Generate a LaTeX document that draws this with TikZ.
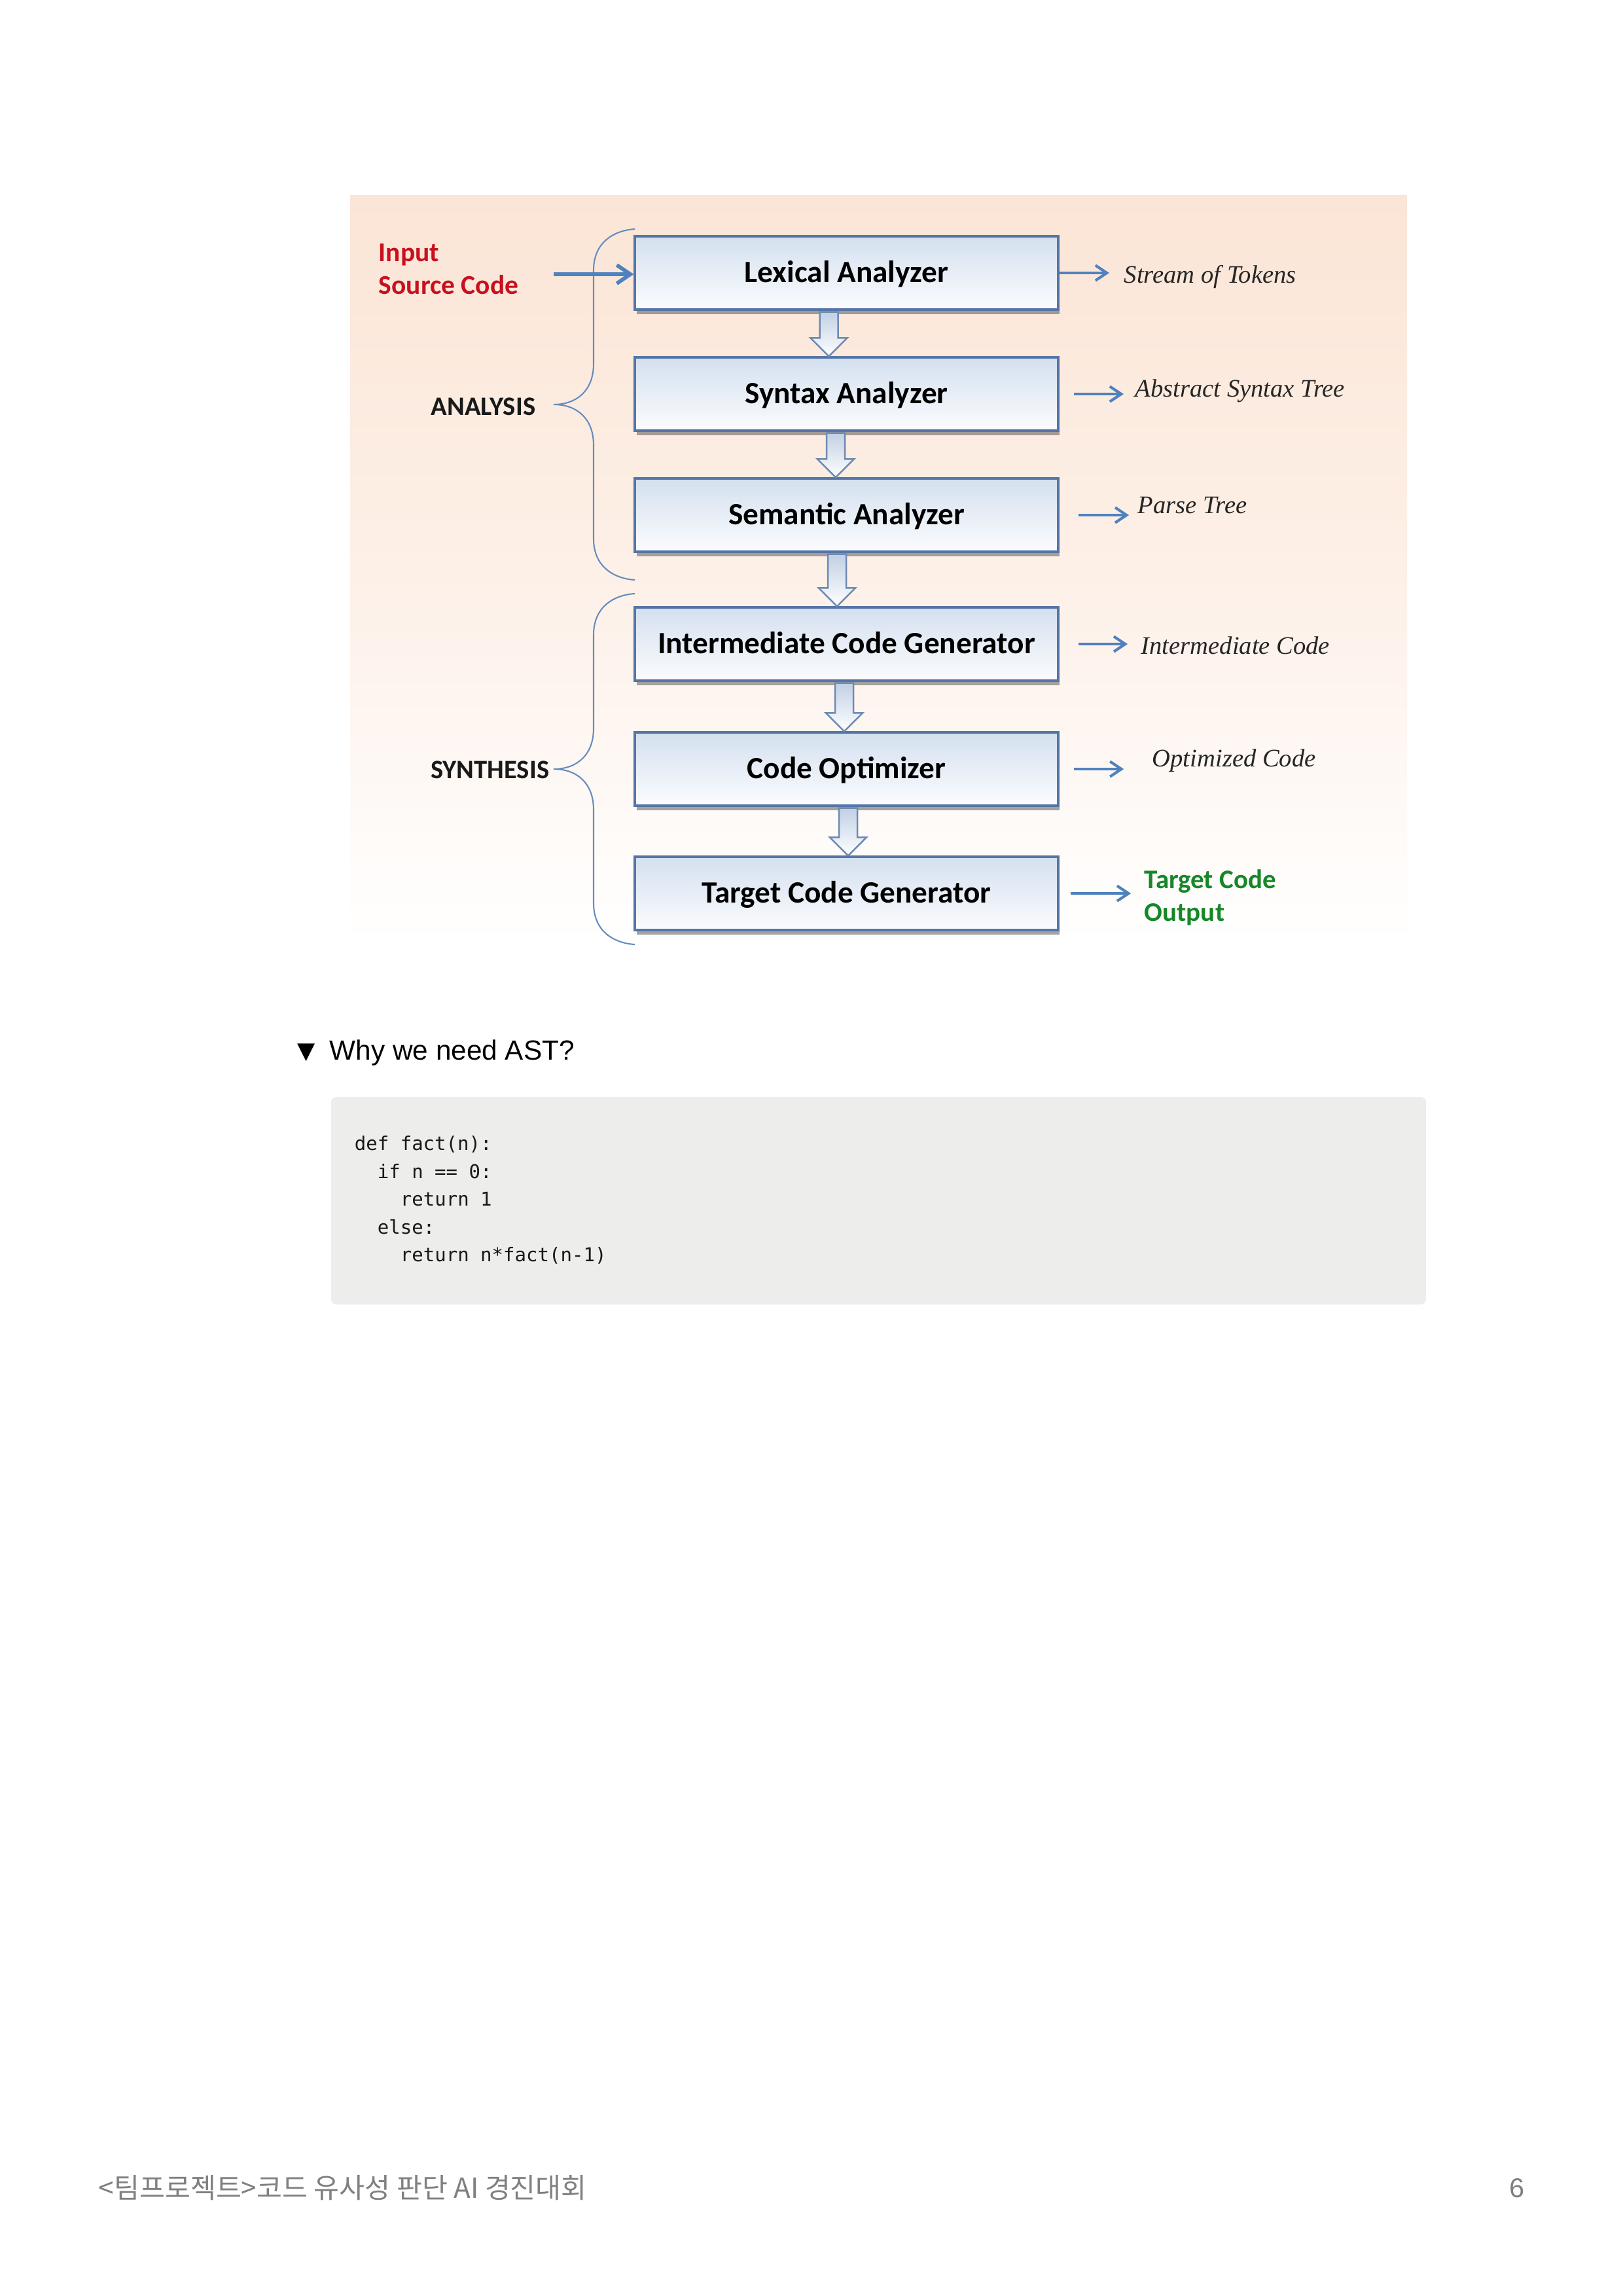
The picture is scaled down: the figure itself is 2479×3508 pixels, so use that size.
\documentclass[tikz,border=0pt]{standalone}
\usepackage{fontspec}
\setmainfont{Liberation Sans}
\setmonofont{DejaVu Sans Mono}
\newfontfamily\carlito{Carlito}
\newfontfamily\serifit{Liberation Serif}
\newfontfamily\krfont{Noto Sans CJK KR}
\newfontfamily\dejavu{DejaVu Sans}
\usetikzlibrary{arrows.meta,calc,shadows}

\definecolor{peach}{RGB}{251,229,214}
\definecolor{peachmid}{RGB}{253,240,231}
\definecolor{boxedge}{RGB}{84,117,166}
\definecolor{boxtop}{RGB}{212,224,239}
\definecolor{boxbot}{RGB}{251,252,254}
\definecolor{arrblue}{RGB}{79,129,189}
\definecolor{bracecol}{RGB}{100,140,190}
\definecolor{inred}{RGB}{200,16,30}
\definecolor{outgreen}{RGB}{22,135,40}
\definecolor{codebg}{RGB}{237,237,235}
\definecolor{footgray}{RGB}{128,128,128}

\newcommand\blockdown[3]{%
  \draw[blockarr] ($(#1.south)+(#3-14,2)$) -- ($(#1.south)+(#3+14,2)$)
    -- ($(#2.north)+(#3+14,-28)$) -- ($(#2.north)+(#3+28,-28)$)
    -- ($(#2.north)+(#3,0)$) -- ($(#2.north)+(#3-28,-28)$)
    -- ($(#2.north)+(#3-14,-28)$) -- cycle;}

\begin{document}
\begin{tikzpicture}[x=0.084712mm, y=-0.084712mm,
  stage/.style={draw=boxedge, line width=0.8pt, top color=boxtop, bottom color=boxbot,
    minimum width=54.8mm, minimum height=9.49mm, inner sep=0pt,
    font=\carlito\bfseries\fontsize{11.4}{13}\selectfont, text height=7.2pt, text depth=0pt,
    drop shadow={shadow xshift=0.6pt, shadow yshift=-1.7pt, opacity=0.5, fill=black!70}},
  blockarr/.style={draw=boxedge!85, line width=0.6pt, top color=boxtop!85!boxedge, bottom color=white},
  rarr/.style={draw=arrblue, line width=1pt, -{Straight Barb[length=4.2pt,width=5.6pt]}},
  inarr/.style={draw=arrblue, line width=1.4pt, -{Straight Barb[length=5pt,width=6.8pt]}},
  bracestyle/.style={draw=bracecol, line width=0.5pt},
  outlab/.style={font=\serifit\itshape\fontsize{9.3}{11}\selectfont, text=black!85, inner sep=0pt, anchor=base west},
  grp/.style={font=\carlito\bfseries\fontsize{9.8}{12}\selectfont, text=black!90, inner sep=0pt, anchor=base east},
  redlab/.style={font=\carlito\bfseries\fontsize{10}{12}\selectfont, text=inred, inner sep=0pt, anchor=base west},
  greenlab/.style={font=\carlito\bfseries\fontsize{9.9}{12}\selectfont, text=outgreen, inner sep=0pt, anchor=base west},
  codeline/.style={font=\ttfamily\fontsize{7}{9}\selectfont, text=black!90, inner sep=0pt, anchor=base west},
  curlybrace/.pic={\draw[bracestyle] (124,-268) .. controls (92,-266) and (61,-248) .. (61,-205)
      -- (61,-62) .. controls (61,-22) and (36,0) .. (0,0)
      .. controls (36,0) and (61,22) .. (61,62) -- (61,205)
      .. controls (61,248) and (92,266) .. (124,268);}
]
\useasboundingbox (0,0) rectangle (2479,3508);
\fill[white] (0,0) rectangle (2479,3508);

% diagram background
\fill[top color=peach, bottom color=white, middle color=peachmid] (535,298) rectangle (2150,1443);

% braces
\pic at (846,618) {curlybrace};
\pic at (846,1175) {curlybrace};

% stages
\node[stage] (lex) at (1293.5,417) {Lexical Analyzer};
\node[stage] (syn) at (1293.5,602) {Syntax Analyzer};
\node[stage] (sem) at (1293.5,787) {Semantic Analyzer};
\node[stage] (icg) at (1293.5,984) {Intermediate Code Generator};
\node[stage] (opt) at (1293.5,1175) {Code Optimizer};
\node[stage] (tcg) at (1293.5,1365) {Target Code Generator};

% block arrows
\blockdown{lex}{syn}{-27}
\blockdown{syn}{sem}{-16.5}
\blockdown{sem}{icg}{-14.5}
\blockdown{icg}{opt}{-3.5}
\blockdown{opt}{tcg}{2.5}

% left labels
\node[redlab] (inp1) at (578,399) {Input};
\node[redlab] (inp2) at (578,449) {Source Code};
\coordinate (insrc) at (846,419);
\draw[inarr] (insrc) -- (insrc -| lex.west);
\node[grp] (ana) at (819,634) {ANALYSIS};
\node[grp] (synth) at (840,1189) {SYNTHESIS};

% right labels
\node[outlab] (tok) at (1717,432) {Stream of Tokens};
\node[outlab] (ast) at (1734,606) {Abstract Syntax Tree};
\node[outlab] (ptree) at (1738,784) {Parse Tree};
\node[outlab] (icode) at (1743,999) {Intermediate Code};
\node[outlab] (ocode) at (1760,1171) {Optimized Code};
\node[greenlab] (tgt1) at (1748,1357) {Target Code};
\node[greenlab] (tgt2) at (1748,1407) {Output};

\draw[rarr, shorten >=5.3pt] (lex.east) -- (tok.west |- lex.east);
\draw[rarr, shorten <=5.3pt, shorten >=4.1pt] (syn.east) -- (ast.west |- syn.east);
\draw[rarr, shorten <=7.2pt, shorten >=3.1pt] (sem.east) -- (ptree.west |- sem.east);
\draw[rarr, shorten <=7.2pt, shorten >=4.8pt] (icg.east) -- (icode.west |- icg.east);
\draw[rarr, shorten <=5.3pt, shorten >=10.3pt] (opt.east) -- (ocode.west |- opt.east);
\draw[rarr, shorten <=4.3pt, shorten >=4.8pt] (tcg.east) -- (tgt1.west |- tcg.east);

% toggle heading
\node[anchor=base west, inner sep=0pt, font=\dejavu\fontsize{8.5}{10}\selectfont] (tri) at (454,1617) {▼};
\node[anchor=base west, inner sep=0pt, font=\fontsize{10.2}{12}\selectfont] (why) at (503,1619) {Why we need AST?};

% code block
\fill[codebg, rounded corners=2pt] (506,1676) rectangle (2179,1993);
\node[codeline] (c1) at (541,1757) {def fact(n):};
\node[codeline] (c2) at (576,1800) {if n == 0:};
\node[codeline] (c3) at (611,1842) {return 1};
\node[codeline] (c4) at (576,1885) {else:};
\node[codeline] (c5) at (611,1927) {return n*fact(n-1)};

% footer
\node[anchor=west, inner sep=0pt, font=\krfont\fontsize{10.2}{12}\selectfont, text=footgray] (foot) at (150,3343) {<팀프로젝트>코드 유사성 판단 AI 경진대회};
\node[anchor=east, inner sep=0pt, font=\fontsize{10}{12}\selectfont, text=footgray] (pg) at (2330,3343) {6};
\end{tikzpicture}
\end{document}
